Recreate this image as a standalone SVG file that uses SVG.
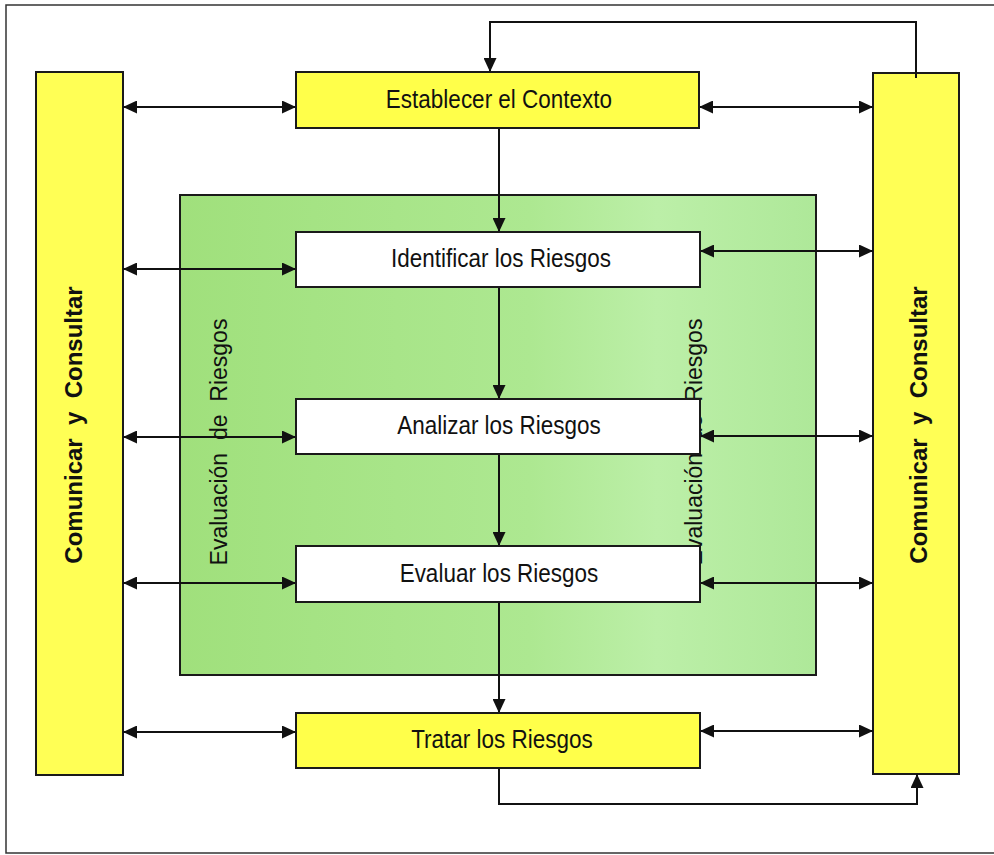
<svg xmlns="http://www.w3.org/2000/svg" width="994" height="855" viewBox="0 0 994 855">
  <defs>
    <linearGradient id="greenFill" x1="0" y1="0" x2="1" y2="0">
      <stop offset="0" stop-color="#a0e07c"/>
      <stop offset="0.55" stop-color="#ade891"/>
      <stop offset="0.75" stop-color="#bcefa8"/>
      <stop offset="1" stop-color="#aee899"/>
    </linearGradient>
    <marker id="head" markerUnits="userSpaceOnUse" markerWidth="15" markerHeight="13" refX="14" refY="6.5" orient="auto-start-reverse">
      <path d="M0,0 L14,6.5 L0,13 z" fill="#111"/>
    </marker>
  </defs>
  <style>
    .frame { fill: #ffffff; stroke: #333; stroke-width: 1.5; }
    .bar { fill: #ffff55; stroke: #1a1a1a; stroke-width: 2; }
    .step { fill: #ffff4a; stroke: #1a1a1a; stroke-width: 2; }
    .plain { fill: #ffffff; stroke: #1a1a1a; stroke-width: 2; }
    .zone { fill: url(#greenFill); stroke: #1a1a1a; stroke-width: 2; }
    text { white-space: pre; }
    .lbl { font-family: "Liberation Sans", Arial, sans-serif; font-size: 22.5px; fill: #111; text-anchor: middle; }
    .side { font-family: "Liberation Sans", Arial, sans-serif; font-size: 24px; font-weight: bold; fill: #111; text-anchor: middle; }
    .zlbl { font-family: "Liberation Sans", Arial, sans-serif; font-size: 23px; fill: #111; text-anchor: middle; }
    .wire { fill: none; stroke: #111; stroke-width: 2; }
    .both { marker-start: url(#head); marker-end: url(#head); }
    .one { marker-end: url(#head); }
  </style>

  <rect x="0" y="0" width="994" height="855" fill="#ffffff"/>
  <rect class="frame" x="6" y="5" width="1000" height="848"/>

  <!-- risk assessment zone -->
  <g id="zone">
    <rect class="zone" x="180" y="195" width="636" height="480"/>
    <text class="zlbl" xml:space="preserve" transform="translate(227,442) rotate(-90)">Evaluación  de  Riesgos</text>
    <text class="zlbl" xml:space="preserve" transform="translate(702,442) rotate(-90)">Evaluación  de  Riesgos</text>
  </g>

  <g id="comunicar-left">
    <rect class="bar" x="36" y="72" width="87" height="703"/>
    <text class="side" xml:space="preserve" transform="translate(82,425) rotate(-90)">Comunicar  y  Consultar</text>
  </g>

  <g id="comunicar-right">
    <rect class="bar" x="873" y="73" width="86" height="701"/>
    <text class="side" xml:space="preserve" transform="translate(927,425) rotate(-90)">Comunicar  y  Consultar</text>
  </g>

  <!-- connectors -->
  <g id="connectors">
    <!-- main flow -->
    <path class="wire one" d="M499,128 V232"/>
    <path class="wire one" d="M499,287 V399"/>
    <path class="wire one" d="M499,454 V546"/>
    <path class="wire one" d="M499,602 V713"/>
    <!-- feedback loops -->
    <path class="wire one" d="M916,78 V22 H490 V72"/>
    <path class="wire one" d="M499,768 V804 H917 V774"/>
    <!-- communication, left side -->
    <path class="wire both" d="M123,107 H296"/>
    <path class="wire both" d="M123,269 H296"/>
    <path class="wire both" d="M123,437 H296"/>
    <path class="wire both" d="M123,583 H296"/>
    <path class="wire both" d="M123,732 H296"/>
    <!-- communication, right side -->
    <path class="wire both" d="M699,107 H873"/>
    <path class="wire both" d="M700,251 H873"/>
    <path class="wire both" d="M700,436 H873"/>
    <path class="wire both" d="M700,583 H873"/>
    <path class="wire both" d="M700,731 H873"/>
  </g>

  <g id="establecer">
    <rect class="step" x="296" y="72" width="403" height="56"/>
    <text class="lbl" transform="translate(499,108) scale(1,1.12)">Establecer el Contexto</text>
  </g>

  <g id="identificar">
    <rect class="plain" x="296" y="232" width="404" height="55"/>
    <text class="lbl" transform="translate(501,267) scale(1,1.12)">Identificar los Riesgos</text>
  </g>

  <g id="analizar">
    <rect class="plain" x="296" y="399" width="404" height="55"/>
    <text class="lbl" transform="translate(499,434) scale(1,1.12)">Analizar los Riesgos</text>
  </g>

  <g id="evaluar">
    <rect class="plain" x="296" y="546" width="404" height="56"/>
    <text class="lbl" transform="translate(499,582) scale(1,1.12)">Evaluar los Riesgos</text>
  </g>

  <g id="tratar">
    <rect class="step" x="296" y="713" width="404" height="55"/>
    <text class="lbl" transform="translate(502,748) scale(1,1.12)">Tratar los Riesgos</text>
  </g>
</svg>
